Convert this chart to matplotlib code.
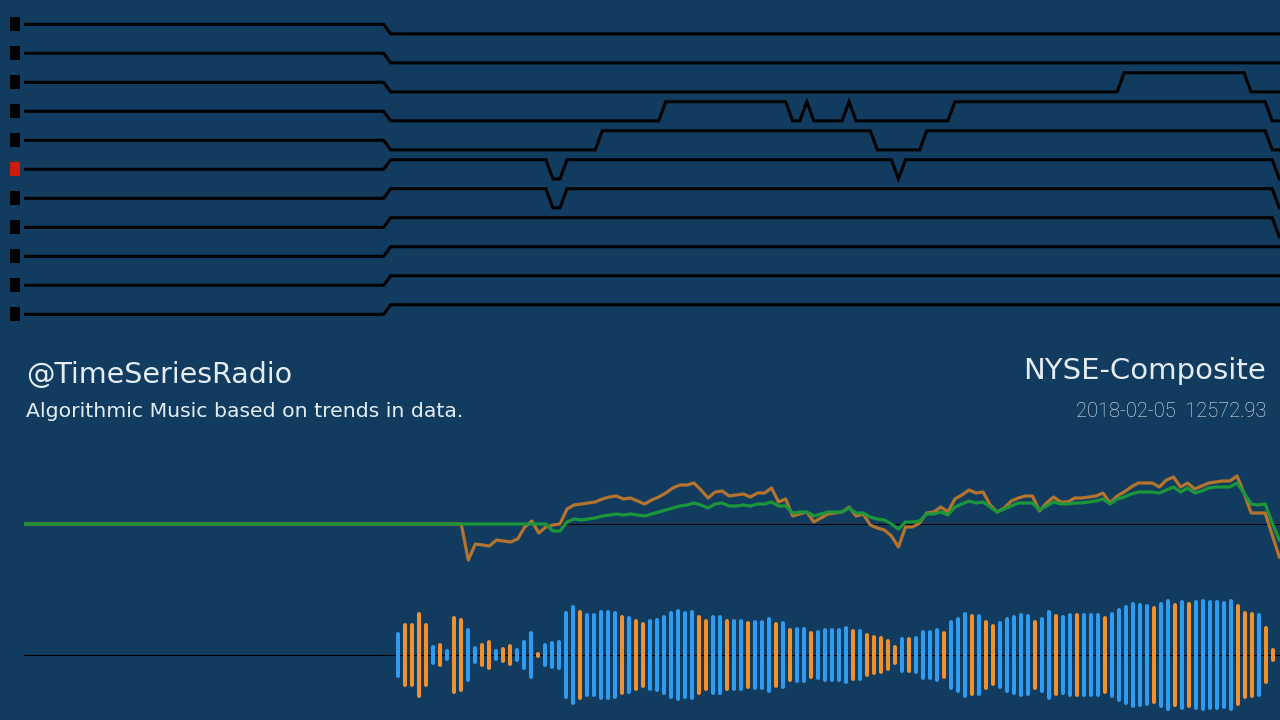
import numpy as np
import matplotlib
matplotlib.use("Agg")
import matplotlib.pyplot as plt

# ---- data -------------------------------------------------------------
# shared time index for the note rows and the price lines
T_FIRST, T_LAST = -51, 127

# note rows: (index from which the state holds, state) ; state 0 before first change
ROW_CHANGES = [
    [(1, -1)],
    [(1, -1)],
    [(1, -1), (105, 1), (123, -1)],
    [(1, -1), (40, 1), (58, -1), (60, 1), (61, -1), (66, 1), (67, -1), (81, 1), (126, -1)],
    [(1, -1), (31, 1), (70, -1), (77, 1), (126, -1)],
    [(1, 1), (24, -1), (26, 1), (73, -1), (74, 1), (127, -1)],
    [(1, 1), (24, -1), (26, 1), (127, -1)],
    [(1, 1), (127, -1)],
    [(1, 1)],
    [(1, 1)],
    [(1, 1)],
]
ACTIVE_ROW = 5

# price (orange) and smoothed trend (green), flat at 0 before their start index
PRICE_START = 11
price = [0, -36, -20, -21, -22, -16, -17, -18, -15, -3,
         3, -9, -3, -1, 0, 15, 19, 20, 21, 22,
         25, 27, 28, 25, 26, 23, 20, 24, 27, 31,
         36, 39, 39, 41, 34, 26, 32, 33, 28, 29,
         30, 27, 31, 31, 36, 22, 25, 8, 10, 12,
         2, 6, 10, 11, 12, 17, 8, 10, -1, -4,
         -6, -12, -23, -3, -3, 1, 11, 12, 17, 12,
         25, 29, 34, 31, 32, 19, 12, 16, 23, 26,
         28, 28, 13, 21, 27, 22, 22, 26, 26, 27,
         28, 31, 21, 28, 32, 37, 41, 41, 41, 37,
         44, 47, 37, 41, 35, 38, 41, 42, 43, 43,
         48, 31, 11, 11, 11, -11, -33]
TREND_START = 23
trend = [0, -7, -7, 2, 5, 4, 5, 6, 8, 9,
         10, 9, 10, 9, 8, 10, 12, 14, 16, 18,
         19, 21, 19, 16, 20, 21, 18, 18, 19, 18,
         20, 20, 22, 18, 18, 11, 12, 12, 8, 10,
         12, 12, 12, 16, 11, 11, 7, 5, 4, 0,
         -5, 2, 2, 3, 10, 10, 12, 9, 17, 20,
         23, 21, 22, 17, 12, 15, 18, 21, 21, 21,
         14, 18, 22, 20, 20, 21, 21, 22, 23, 25,
         20, 25, 27, 30, 32, 32, 32, 31, 34, 37,
         32, 36, 31, 33, 36, 37, 37, 37, 41, 31,
         20, 19, 20, 1, -16]

# waveform bars: amplitude and direction (B = up / blue, O = down / orange)
bar_amp = [70, 97, 95, 130, 97, 30, 37, 19, 116, 110,
           82, 28, 37, 45, 19, 25, 33, 20, 44, 72,
           9, 37, 43, 46, 131, 150, 135, 127, 127, 135,
           135, 132, 119, 117, 108, 98, 107, 111, 119, 132,
           138, 132, 135, 120, 109, 121, 121, 108, 109, 109,
           103, 106, 106, 114, 99, 103, 81, 84, 84, 73,
           76, 81, 81, 81, 87, 79, 77, 66, 61, 58,
           49, 29, 53, 54, 57, 74, 75, 80, 73, 104,
           114, 128, 124, 124, 105, 94, 102, 115, 121, 125,
           123, 105, 115, 134, 123, 121, 127, 126, 125, 125,
           127, 116, 130, 141, 150, 158, 155, 152, 146, 160,
           167, 155, 165, 158, 165, 168, 165, 165, 162, 168,
           152, 132, 128, 125, 86, 20]
bar_dir = ("BOOOOBOBOO" "BBOOBOOBBB" "OBBBBBOBBB" "BBOBOOBBBB"
           "BBBOOBBOBB" "OBBBOBOBBO" "BBBBBOBOOO" "OOBOBBBBOB"
           "BBOBOOBBBB" "BOBBOBBOBB" "BOBBBBBBOB" "BOBOBBBBBB"
           "OOOBOO")

handle = "@TimeSeriesRadio"
tagline = "Algorithmic Music based on trends in data."
series_name = "NYSE-Composite"
series_date = "2018-02-05"
series_value = "12572.93"

# ---- style ------------------------------------------------------------
BG = "#113c60"
TXT = "#e4edf4"
C_PRICE = "#b5732e"
C_TREND = "#1b963b"
C_UP = "#2e9cf0"
C_DOWN = "#f0912e"
W, H = 1280, 720

plt.rcParams["font.family"] = ["DejaVu Sans"]

fig = plt.figure(figsize=(W / 100, H / 100), dpi=100)
fig.patch.set_facecolor(BG)


def px_axes(x0, y0, x1, y1):
    ax = fig.add_axes([x0 / W, 1 - y1 / H, (x1 - x0) / W, (y1 - y0) / H])
    ax.set_facecolor("none")
    ax.axis("off")
    return ax


t = np.arange(T_FIRST, T_LAST + 1)

# --- note rows ---
ROW_GAP, FIRST_ROW, STEP = 29.0, 24.3, 0.33
ax = px_axes(24, 0, 1280, 340)
ax.set_xlim(T_FIRST, T_LAST + 0.1)
ax.set_ylim((340 - FIRST_ROW) / ROW_GAP, -FIRST_ROW / ROW_GAP)
tall_box = [(-5, -7), (5, -7), (5, 7), (-5, 7), (-5, -7)]
for r, changes in enumerate(ROW_CHANGES):
    state = np.zeros(len(t))
    for idx, val in changes:
        state[t >= idx] = val
    ax.plot(t, r - STEP * state, color="black", lw=2.2, solid_joinstyle="miter")
    ax.plot([-0.0072], [r - 0.02], marker=tall_box, ms=10, mew=0,
            color="#d01a0c" if r == ACTIVE_ROW else "black",
            transform=ax.get_yaxis_transform(), clip_on=False)

# --- price lines ---
ax = px_axes(24, 460, 1280, 580)
ax.set_xlim(T_FIRST, T_LAST + 0.1)
ax.set_ylim(-56, 64)
price_full = np.zeros(len(t))
price_full[t >= PRICE_START] = price
trend_full = np.zeros(len(t))
trend_full[t >= TREND_START] = trend
ax.axhline(0, color="black", lw=0.8)
ax.plot(t, price_full, color=C_PRICE, lw=2.3)
ax.plot(t, trend_full, color=C_TREND, lw=2.3)

# --- waveform bars ---
ax = px_axes(24, 595, 1280, 715)
ax.set_xlim(-52.47, 126.96)
ax.set_ylim(-180, 180)
ax.axhline(0, color="black", lw=0.8)
k = np.arange(1, len(bar_amp) + 1)
amp = np.array(bar_amp, dtype=float) - 6
cols = [C_UP if d == "B" else C_DOWN for d in bar_dir]
vl = ax.vlines(k, -amp, amp, colors=cols, lw=2.9)
vl.set_capstyle("round")

# --- text ---
fig.text(26 / W, 1 - 383 / H, handle, color=TXT, fontsize=20.5,
         va="baseline", ha="left")
fig.text(26 / W, 1 - 417 / H, tagline, color=TXT, fontsize=14.7,
         va="baseline", ha="left")
fig.text(1266 / W, 1 - 379 / H, series_name, color=TXT, fontsize=21,
         va="baseline", ha="right")
fig.text(1266 / W, 1 - 417 / H, f"{series_date}  {series_value}", color=TXT,
         fontsize=14.4, fontweight="light", family=["Roboto", "DejaVu Sans"],
         va="baseline", ha="right")

fig.savefig("out.png", dpi=100, facecolor=BG)
